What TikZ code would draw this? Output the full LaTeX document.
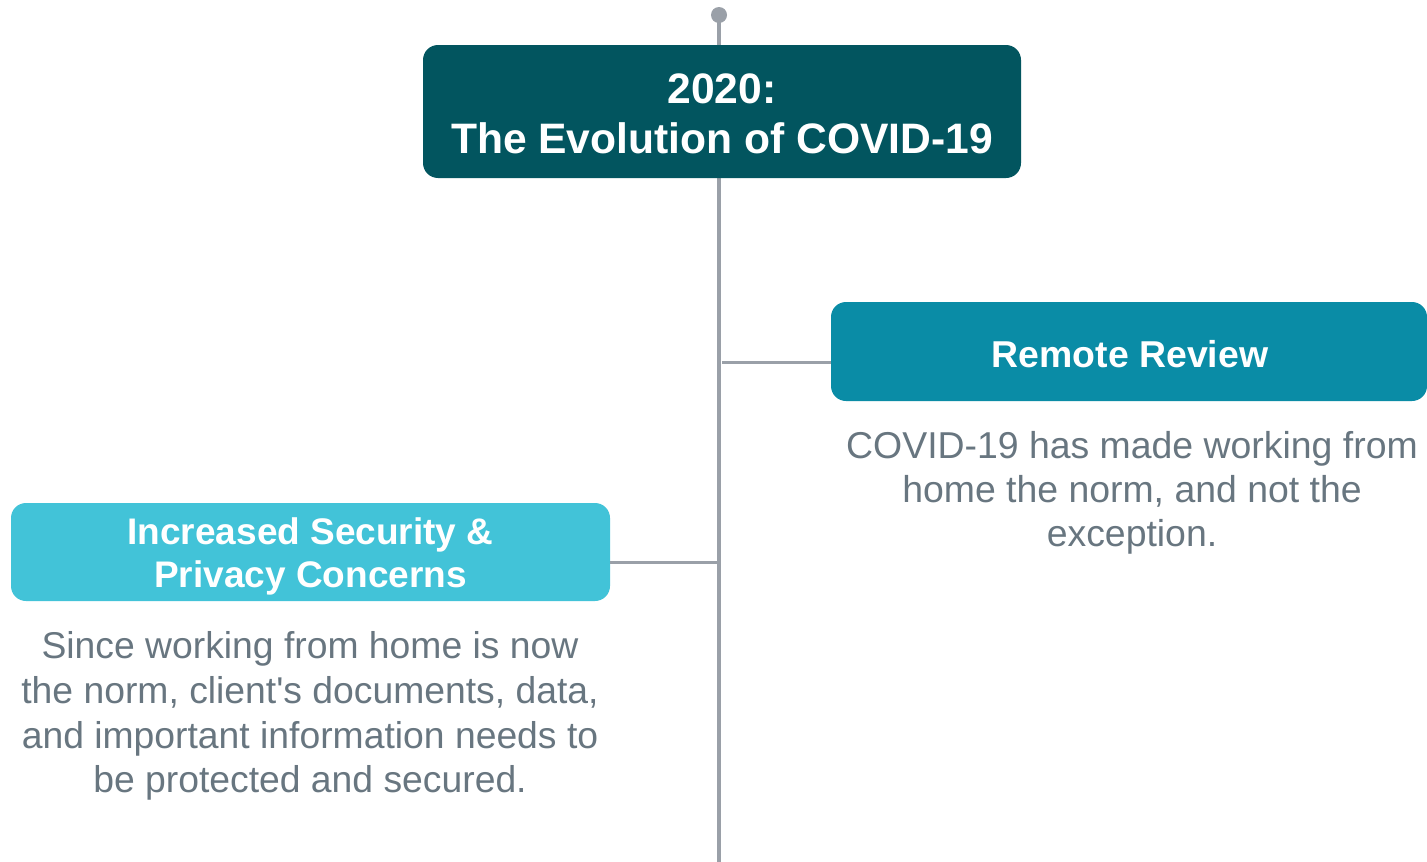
\documentclass[tikz,border=0pt]{standalone}
\usepackage{fontspec}
\setmainfont{Liberation Sans}
\font\plainquote="Liberation Sans" at 37.3pt
\definecolor{topbox}{HTML}{02555F}
\definecolor{rightbox}{HTML}{0A8CA6}
\definecolor{leftbox}{HTML}{42C3D8}
\definecolor{linegray}{HTML}{9AA0A8}
\definecolor{textgray}{HTML}{687680}
\begin{document}
\begin{tikzpicture}[x=1pt,y=-1pt,
  box/.style={draw=none,rounded corners=15pt,inner sep=0pt,text=white,font=\bfseries,align=center},
  body/.style={text=textgray,align=center,inner sep=0pt},
  conn/.style={draw=linegray,line width=3pt},
  spine/.style={draw=linegray,line width=4pt}]
\useasboundingbox (0,0) rectangle (1427,862);
\fill[white] (0,0) rectangle (1427,862);
\coordinate (top) at (719,15);
\coordinate (bottom) at (719,862);
\draw[spine] (top) -- (bottom);
\fill[linegray] (top) circle (8);
\node[box,fill=topbox,minimum width=598pt,minimum height=133pt] (title) at (722,111.5) {};
\node[text=white,font=\bfseries\fontsize{42.6}{50}\selectfont,align=center,inner sep=0pt] (titletext) at (722,114) {2020:\\The Evolution of COVID-19};
\node[box,fill=rightbox,minimum width=596pt,minimum height=99pt] (remote) at (1129,351.5) {};
\node[text=white,font=\bfseries\fontsize{37.4}{43}\selectfont,inner sep=0pt] (remotetitle) at (1130,354) {Remote Review};
\node[box,fill=leftbox,minimum width=599pt,minimum height=98pt] (security) at (310.5,552) {};
\node[text=white,font=\bfseries\fontsize{37}{43}\selectfont,align=center,inner sep=0pt] (sectitle) at (310.5,556) {Increased Security \&\\Privacy Concerns};
\coordinate (rj) at (722,362);
\coordinate (lj) at (717,562);
\draw[conn] (rj) -- (remote.west |- rj);
\draw[conn] (security.east |- lj) -- (lj);
\node[body,font=\fontsize{37.4}{44}\selectfont] (remotetext) at (1132,493) {COVID-19 has made working from\\home the norm, and not the\\exception.};
\node[body,font=\fontsize{37.3}{44.7}\selectfont] (sectext) at (310,716) {Since working from home is now\\the norm, client{\plainquote\char"27}s documents, data,\\and important information needs to\\be protected and secured.};
\end{tikzpicture}
\end{document}
